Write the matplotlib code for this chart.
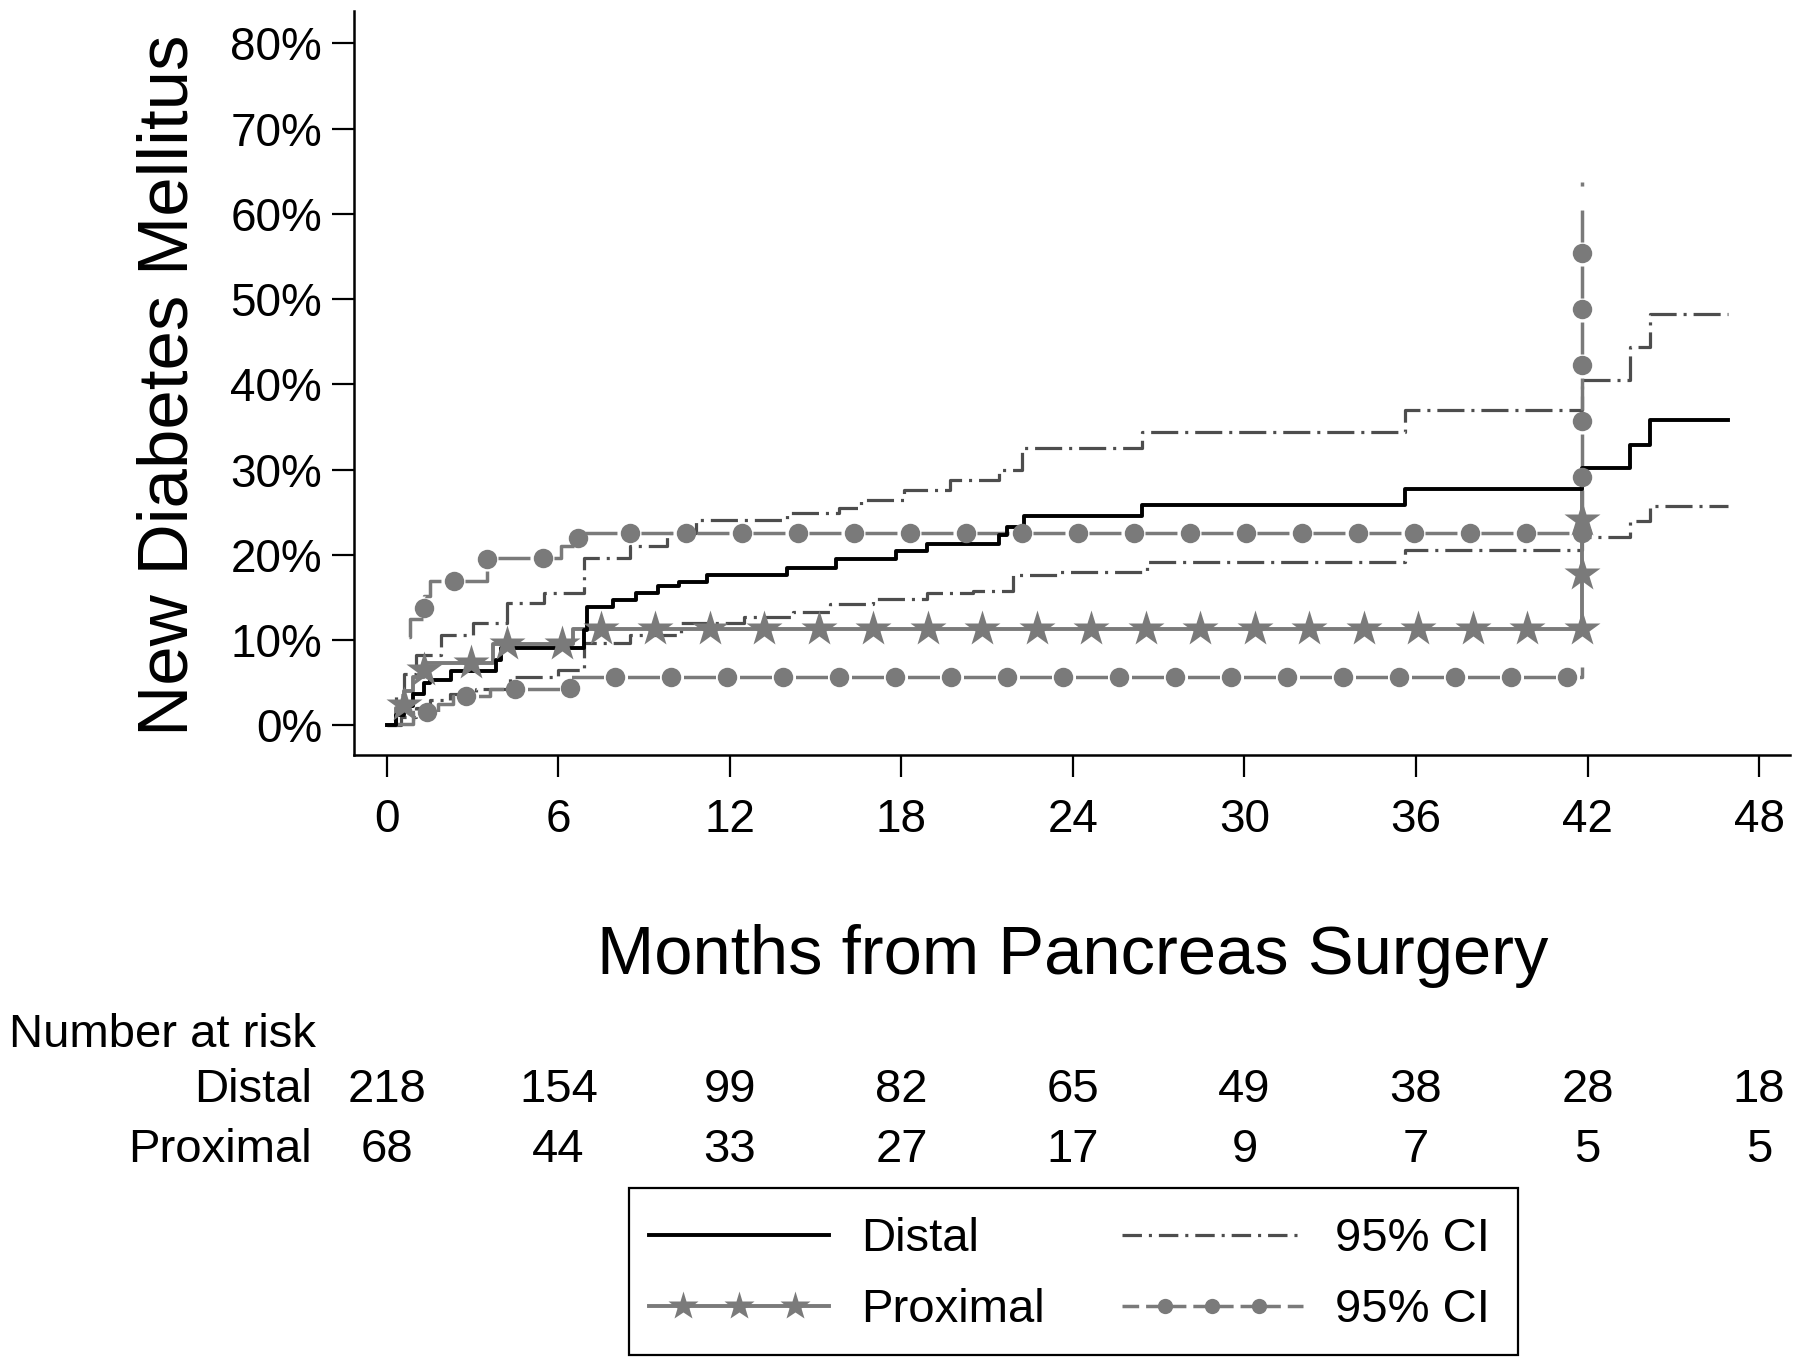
import numpy as np
import matplotlib
matplotlib.use("Agg")
import matplotlib.pyplot as plt
from matplotlib.lines import Line2D
from matplotlib.patches import Rectangle
from matplotlib.legend_handler import HandlerLine2D
from matplotlib.transforms import blended_transform_factory

# Kaplan-Meier style cumulative incidence (percent), step changes at given months
distal_t = [0, 0.3, 0.6, 0.9, 1.3, 1.5, 2.25, 3.8, 4.0, 6.9, 7.0, 7.9, 8.7, 9.5,
            10.2, 11.2, 14.0, 15.7, 17.8, 18.9, 21.4, 21.7, 22.3, 26.4, 35.6,
            41.8, 43.5, 44.2, 46.9]
distal_v = [0, 1.2, 2.2, 3.7, 4.9, 5.3, 6.3, 7.6, 9.1, 11.2, 13.9, 14.7, 15.5, 16.3,
            16.8, 17.6, 18.5, 19.5, 20.4, 21.3, 22.3, 23.3, 24.6, 25.8, 27.7,
            30.2, 32.9, 35.8, 35.8]

distal_hi_t = [0, 0.3, 0.6, 1.0, 1.9, 3.0, 4.2, 5.5, 6.9, 8.5, 9.8, 10.8, 14.0, 15.8,
               16.6, 18.1, 19.7, 21.4, 22.2, 26.4, 35.6, 41.8, 43.5, 44.2, 46.9]
distal_hi_v = [0, 3.5, 6.0, 8.2, 10.6, 12.0, 14.3, 15.5, 19.6, 21.0, 22.5, 24.1, 24.9,
               25.5, 26.4, 27.6, 28.8, 30.0, 32.5, 34.4, 37.0, 40.5, 44.4, 48.2, 48.2]

distal_lo_t = [0, 0.5, 1.0, 1.5, 2.2, 3.1, 4.3, 6.0, 6.9, 8.5, 10.3, 12.5, 14.2, 15.5,
               17.0, 18.9, 20.5, 21.9, 23.5, 26.6, 35.6, 41.8, 43.5, 44.2, 46.9]
distal_lo_v = [0, 1.0, 2.0, 3.0, 3.6, 4.3, 5.6, 6.5, 9.6, 10.6, 12.0, 12.7, 13.3, 14.2,
               14.8, 15.5, 15.7, 17.6, 18.0, 19.2, 20.5, 22.1, 23.9, 25.7, 25.7]

prox_t = [0, 0.3, 0.6, 0.9, 1.3, 3.7, 6.5, 41.8]
prox_v = [0, 2.0, 4.0, 5.7, 7.3, 9.5, 11.3, 28.8]

prox_hi_t = [0.28, 0.8, 1.3, 1.5, 3.5, 6.1, 6.7, 41.8]
prox_hi_v = [10.4, 12.5, 15.1, 16.9, 19.6, 21.0, 22.5, 63.7]

prox_lo_t = [0.28, 0.9, 1.8, 2.3, 3.6, 6.4, 41.8]
prox_lo_v = [0.1, 1.5, 2.5, 3.4, 4.2, 5.7, 6.8]

risk_months = [0, 6, 12, 18, 24, 30, 36, 42, 48]
risk_distal = [218, 154, 99, 82, 65, 49, 38, 28, 18]
risk_proximal = [68, 44, 33, 27, 17, 9, 7, 5, 5]

BLACK = "#000000"
GREY = "#7a7a7a"
DARK = "#4d4d4d"
FONT = "Liberation Sans"
PX2PT = 0.72  # dpi 100

plt.rcParams["font.family"] = [FONT, "DejaVu Sans"]
plt.rcParams["lines.scale_dashes"] = False


def step_path(t, v):
    xs, ys = [t[0]], [v[0]]
    for i in range(1, len(t)):
        xs += [t[i], t[i]]
        ys += [v[i - 1], v[i]]
    return np.array(xs, float), np.array(ys, float)


def markers_along(ax, t, v, spacing, start=None, anchor_vertex=None):
    """Marker positions evenly spaced (display px) along the step path.
    Returns x, y and the path distance of the first marker."""
    xs, ys = step_path(t, v)
    disp = ax.transData.transform(np.column_stack([xs, ys]))
    seg = np.hypot(*np.diff(disp, axis=0).T)
    keep = np.concatenate([[True], seg > 1e-9])
    disp = disp[keep]
    cum = np.concatenate([[0], np.cumsum(seg[seg > 1e-9])])
    if anchor_vertex is not None:
        start = cum[anchor_vertex] % spacing
        if start < 20:
            start += spacing
    targets = np.arange(start, cum[-1] - 20, spacing)
    px = np.interp(targets, cum, disp[:, 0])
    py = np.interp(targets, cum, disp[:, 1])
    out = ax.transData.inverted().transform(np.column_stack([px, py]))
    return out[:, 0], out[:, 1], start


class InsetMarkerHandler(HandlerLine2D):
    """Full-length legend line with three markers set inside it."""

    def __init__(self, inset, **kw):
        super().__init__(**kw)
        self.inset = inset

    def create_artists(self, legend, orig_handle, xdescent, ydescent, width,
                       height, fontsize, trans):
        x0, x1 = -xdescent, -xdescent + width
        y = (height - ydescent) / 2
        line = Line2D([x0, x1], [y, y])
        self.update_prop(line, orig_handle, legend)
        line.set_marker("None")
        mk = np.linspace(x0 + self.inset * width, x1 - self.inset * width, 3)
        marks = Line2D(mk, np.full(3, y))
        self.update_prop(marks, orig_handle, legend)
        marks.set_linestyle("None")
        line.set_transform(trans)
        marks.set_transform(trans)
        return [line, marks]


fig = plt.figure(figsize=(18, 13.65), dpi=100)
ax = fig.add_axes([0.1967, 0.4469, 0.798, 0.545])
ax.set_xlim(-1.15, 49.1)
ax.set_ylim(-3.5, 83.8)

for side in ("top", "right"):
    ax.spines[side].set_visible(False)
for side in ("left", "bottom"):
    ax.spines[side].set_linewidth(1.8)

ax.set_xticks(risk_months)
ax.set_yticks(range(0, 81, 10))
ax.set_yticklabels([f"{p}%" for p in range(0, 81, 10)])
ax.tick_params(axis="both", direction="out", length=16, width=1.6, labelsize=33)
ax.tick_params(axis="x", pad=15)
ax.tick_params(axis="y", pad=7)

dashdot = (0, (19.5, 5, 2.2, 5))
ax.step(distal_hi_t, distal_hi_v, where="post", color=DARK, lw=2.3, linestyle=dashdot)
ax.step(distal_lo_t, distal_lo_v, where="post", color=DARK, lw=2.3, linestyle=dashdot)

# proximal CI: long dashes with circles sitting in the gaps
spacing, gap = 56.0, 24.0
for t, v, anchor in ((prox_hi_t, prox_hi_v, -2), (prox_lo_t, prox_lo_v, None)):
    mx, my, s0 = markers_along(ax, t, v, spacing, start=43.5, anchor_vertex=anchor)
    on = spacing - gap
    offset = ((on + gap / 2 - s0) % spacing) * PX2PT
    ax.step(t, v, where="post", color=GREY, lw=2.5,
            linestyle=(offset, (on * PX2PT, gap * PX2PT)))
    ax.plot(mx, my, ls="none", marker="o", ms=14, color=GREY, mec="none", zorder=5)

ax.step(prox_t, prox_v, where="post", color=GREY, lw=2.8)
ax.step(distal_t, distal_v, where="post", color=BLACK, lw=2.8)
mx, my, _ = markers_along(ax, prox_t, prox_v, 54.5, anchor_vertex=-2)
ax.plot(mx, my, ls="none", marker="*", ms=27, color=GREY, mec="none", zorder=5)

# axis titles
fig.text(0.0944, 0.718, "New Diabetes Mellitus", rotation=90, ha="center",
         va="center", fontsize=51)
xfig = blended_transform_factory(ax.transData, fig.transFigure)
fig.text(24, 0.2868, "Months from Pancreas Surgery", transform=xfig,
         ha="center", va="baseline", fontsize=49.5)

# number at risk table
fig.text(0.005, 0.2330, "Number at risk", ha="left", va="baseline", fontsize=34)
fig.text(0.1733, 0.1927, "Distal", ha="right", va="baseline", fontsize=34)
fig.text(0.1733, 0.1487, "Proximal", ha="right", va="baseline", fontsize=34)
for m, nd, npx in zip(risk_months, risk_distal, risk_proximal):
    fig.text(m, 0.1927, str(nd), transform=xfig, ha="center", va="baseline", fontsize=34)
    fig.text(m, 0.1487, str(npx), transform=xfig, ha="center", va="baseline", fontsize=34)

# legend: frameless content plus a separate box
h_distal = Line2D([], [], color=BLACK, lw=2.8)
h_prox = Line2D([], [], color=GREY, lw=2.8, marker="*", ms=22, mec="none")
h_dci = Line2D([], [], color=DARK, lw=2.3, linestyle=(0, (14, 5, 2.2, 5)))
h_pci = Line2D([], [], color=GREY, lw=2.5, linestyle=(0, (12, 5)), marker="o", ms=11,
               mec="none")
labels = ["Distal", "Proximal", "95% CI", "95% CI"]
fig.legend([h_distal, h_prox, h_dci, h_pci], labels, ncol=2, loc="upper left",
           bbox_to_anchor=(0.3606, 0.1084), bbox_transform=fig.transFigure,
           borderaxespad=0, borderpad=0, fontsize=34, numpoints=1,
           handlelength=3.82, handletextpad=0.68, columnspacing=1.63,
           labelspacing=0.58, frameon=False,
           handler_map={h_prox: InsetMarkerHandler(0.19),
                        h_pci: InsetMarkerHandler(0.24)})
fig.patches.append(Rectangle((0.3494, 0.0073), 0.4939, 0.1224, transform=fig.transFigure,
                             fill=False, edgecolor="black", lw=1.6))

fig.savefig("out.png", dpi=100)
plt.close(fig)
